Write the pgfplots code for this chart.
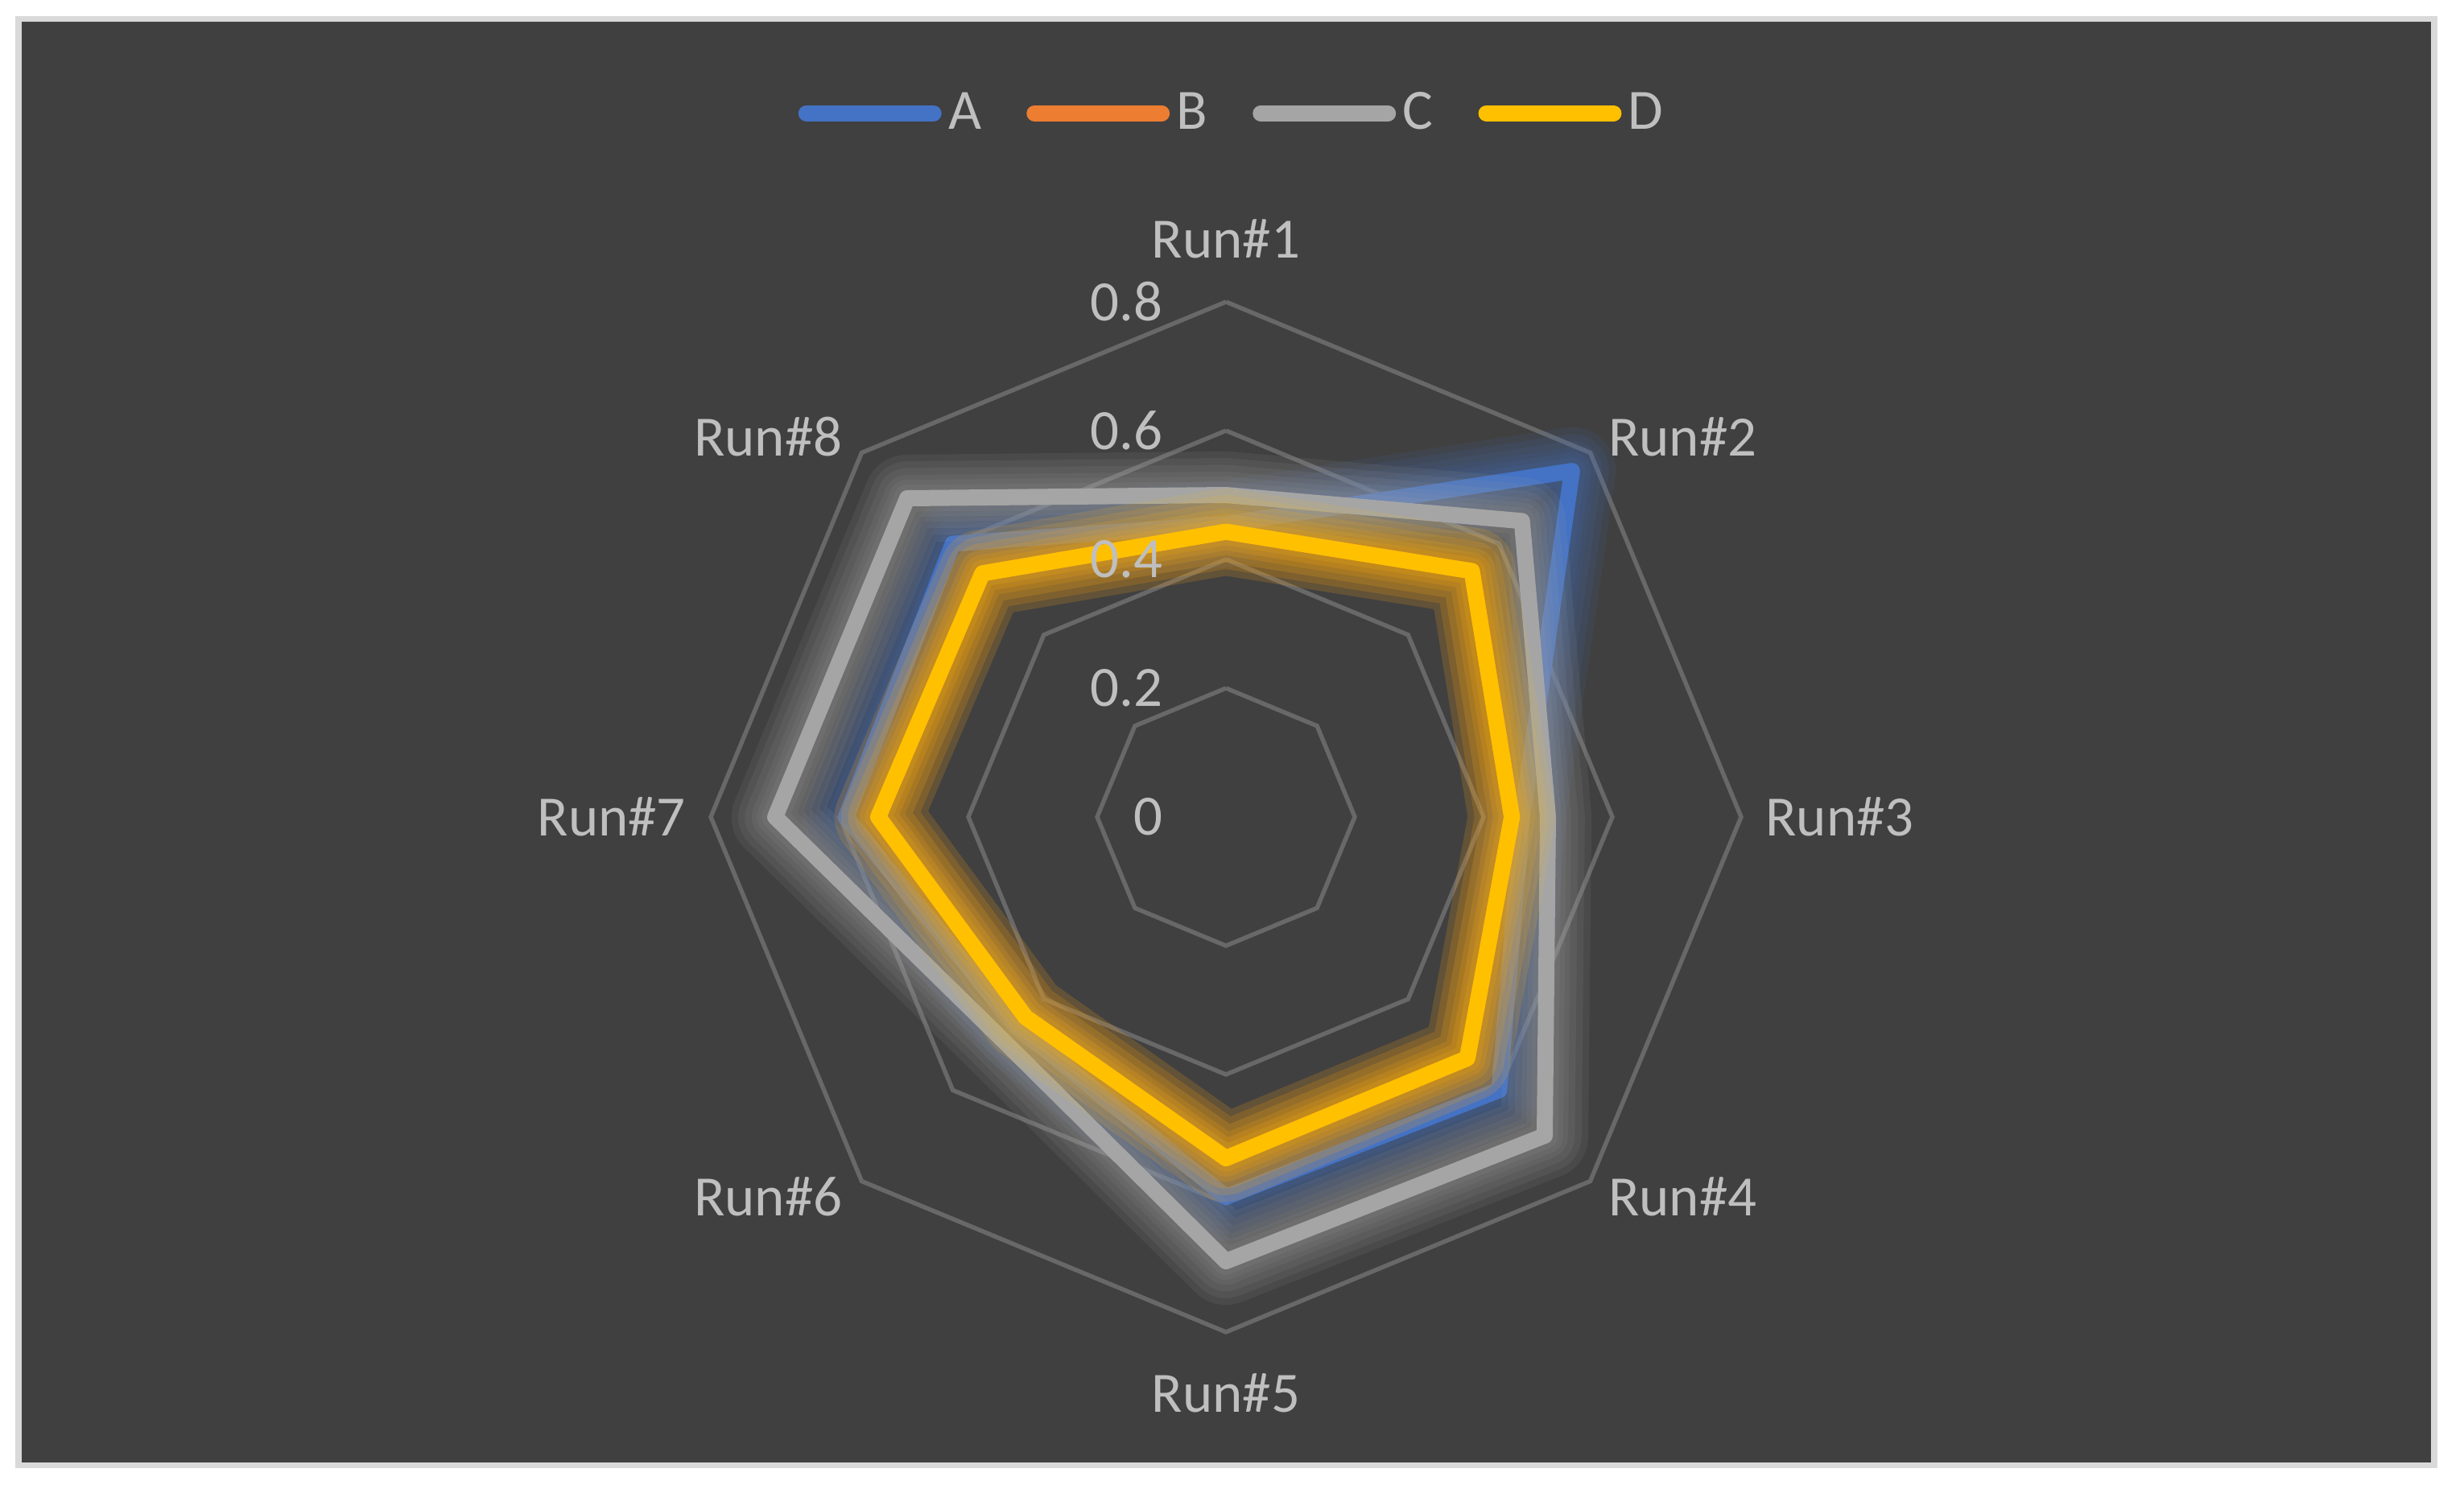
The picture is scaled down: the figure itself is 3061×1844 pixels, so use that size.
\documentclass[border=0pt]{standalone}
\usepackage{fontspec}
\setmainfont{Carlito}
\usepackage{pgfplots}
\usepackage{pgfplotstable}
\pgfplotsset{compat=1.18}

\definecolor{bg}{HTML}{404040}
\definecolor{frame}{HTML}{D9D9D9}
\definecolor{txt}{HTML}{BFBFBF}
\definecolor{gridc}{HTML}{686868}
\definecolor{serA}{HTML}{4472C4}
\definecolor{serB}{HTML}{ED7D31}
\definecolor{serC}{HTML}{A5A5A5}
\definecolor{serD}{HTML}{FFC000}

\tikzset{lbl/.style={text=txt, font=\fontsize{17}{20}\selectfont, inner sep=2pt}}

% one row per spoke (angle in degrees), first row repeated to close the polygon
\pgfplotstableread{
run ang A     B     C    D
1   90  0.455 0.443 0.50 0.443
2   45  0.76  0.54  0.65 0.54
3   0   0.46  0.444 0.50 0.444
4   -45 0.60  0.53  0.70 0.53
5   -90 0.59  0.53  0.69 0.53
6  -135 0.46  0.44  0.49 0.44
7   180 0.59  0.54  0.70 0.54
8   135 0.60  0.535 0.70 0.535
9   90  0.455 0.443 0.50 0.443
}\runs

% glow (stacked faint strokes) under each series line
\newcommand{\radar}[2]{%
  \pgfplotsinvokeforeach{26,22,18,14,11,8}{
    \addplot[forget plot, #2, opacity=0.1, line width=##1pt, line join=round, line cap=round]
      table[x expr={\thisrow{#1}*cos(\thisrow{ang})}, y expr={\thisrow{#1}*sin(\thisrow{ang})}] {\runs};
  }
  \addplot[#2, line width=4.8pt, line join=round, line cap=round]
    table[x expr={\thisrow{#1}*cos(\thisrow{ang})}, y expr={\thisrow{#1}*sin(\thisrow{ang})}] {\runs};
  \addlegendentry{#1}
}

\begin{document}
\begin{tikzpicture}
\begin{scope}[x=0.24pt,y=0.24pt]
  \fill[white] (0,0) rectangle (3061,1844);
  \fill[frame] (19,20) rectangle (3028,1824);
  \fill[bg] (27,27) rectangle (3020,1817);
\end{scope}
\begin{axis}[
  at={(1523*0.24pt,829*0.24pt)}, anchor=center,
  width=307.2pt, height=307.2pt, scale only axis,
  xmin=-0.8, xmax=0.8, ymin=-0.8, ymax=0.8,
  hide axis, clip=false,
  legend columns=4,
  legend style={at={(0.508,1.183)}, anchor=center, draw=none, fill=none,
    text=txt, font=\fontsize{17}{20}\selectfont, inner sep=0pt,
    /tikz/every even column/.append style={column sep=11.5pt}},
  legend image code/.code={\draw[#1, line width=4.8pt, line cap=round] (2.4pt,0pt) -- (40.3pt,0pt);},
]
\pgfplotsinvokeforeach{0.2,0.4,0.6,0.8}{
  \addplot[forget plot, gridc, line width=1.3pt]
    table[x expr={#1*cos(\thisrow{ang})}, y expr={#1*sin(\thisrow{ang})}] {\runs};
}
\radar{A}{serA}
\radar{B}{serB}
\radar{C}{serC}
\radar{D}{serD}

\node[lbl, anchor=east] at (axis cs:-0.087,0) {0};
\node[lbl, anchor=east] at (axis cs:-0.087,0.2) {0.2};
\node[lbl, anchor=east] at (axis cs:-0.087,0.4) {0.4};
\node[lbl, anchor=east] at (axis cs:-0.087,0.6) {0.6};
\node[lbl, anchor=east] at (axis cs:-0.087,0.8) {0.8};

\node[lbl] at (axis cs:0,0.898) {Run\#1};
\node[lbl] at (axis cs:0.709,0.59) {Run\#2};
\node[lbl] at (axis cs:0.953,0) {Run\#3};
\node[lbl] at (axis cs:0.709,-0.59) {Run\#4};
\node[lbl] at (axis cs:0,-0.895) {Run\#5};
\node[lbl] at (axis cs:-0.711,-0.59) {Run\#6};
\node[lbl] at (axis cs:-0.954,0) {Run\#7};
\node[lbl] at (axis cs:-0.711,0.59) {Run\#8};
\end{axis}
\end{tikzpicture}
\end{document}
